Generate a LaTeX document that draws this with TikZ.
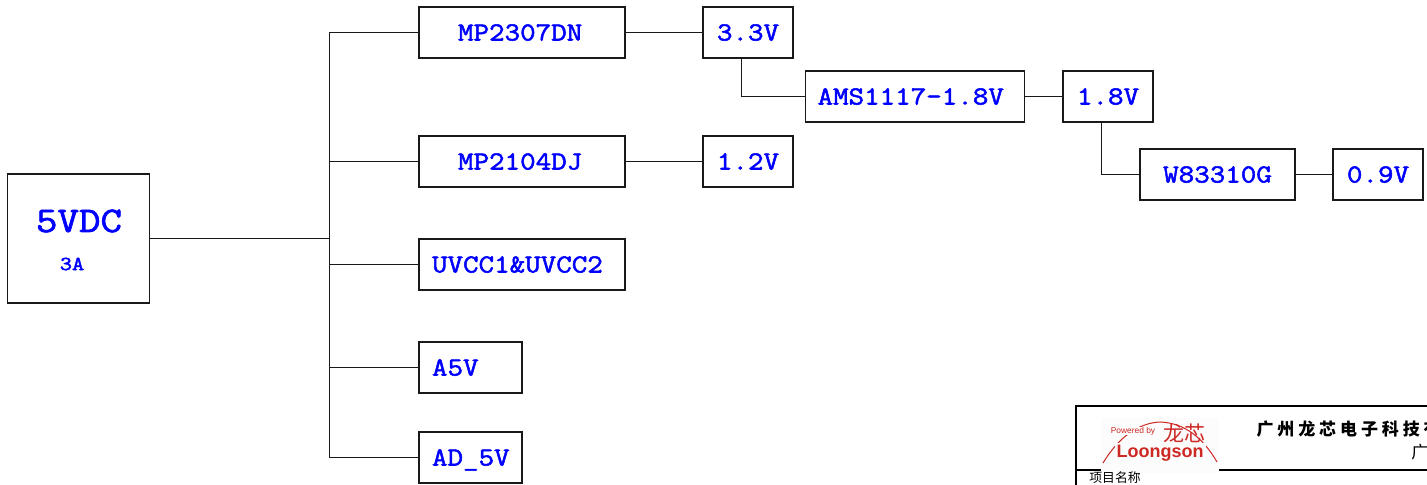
\documentclass[tikz,border=0pt]{standalone}
\usepackage{fontspec}
\usepackage{xcolor}
\usetikzlibrary{positioning}
\newfontfamily\cjkfont{Noto Sans CJK SC}
\newfontfamily\logofont{Liberation Sans}
\newfontfamily\railfont[FakeBold=2, FakeStretch=1.16]{Latin Modern Mono}
\definecolor{railblue}{RGB}{0,0,255}
\definecolor{logored}{RGB}{205,40,35}
\tikzstyle{railbox} = [rectangle, draw=black!90, line width=0.7pt, fill=white, inner xsep=0pt, inner ysep=0pt, minimum height=25.5pt, text=railblue, font=\fontsize{13}{15}\railfont, text height=8pt, text depth=0pt, align=center]
\tikzstyle{railleft} = [railbox, inner xsep=6.5pt, align=left]
\tikzstyle{wire} = [line width=0.8pt, color=black!90]
\tikzstyle{frameline} = [line width=1pt, color=black]

\begin{document}
\begin{tikzpicture}[x=0.5pt, y=-0.5pt]
\useasboundingbox (0,0) rectangle (1427,485);
\clip (0,0) rectangle (1427,485);
% source
\node (source) [railbox, minimum width=71pt, minimum height=64.5pt] at (78.5,238.5) {};
\node (sourcev) [text=railblue, inner sep=0pt, font=\fontsize{18}{20}\railfont] at (79,221) {5VDC};
\node (sourcea) [text=railblue, inner sep=0pt, font=\fontsize{10}{12}\railfont] at (72,264) {3A};
% first column
\node (mptop) [railleft, inner xsep=19.5pt, minimum width=103pt, text width=64pt] at (522,32.5) {MP2307DN};
\node (mpmid) [railleft, inner xsep=19.5pt, minimum width=103pt, text width=64pt] at (522,161.5) {MP2104DJ};
\node (uvcc) [railleft, minimum width=103pt, text width=90pt] at (522,264.5) {UVCC1\&UVCC2};
\node (afive) [railleft, minimum width=51.5pt, text width=38.5pt] at (470.5,367.5) {A5V};
\node (adfive) [railleft, minimum width=51.5pt, text width=38.5pt] at (470.5,457.5) {AD\_5V};
% outputs
\node (vthree) [railbox, minimum width=45pt, text width=45pt] at (748,32.5) {3.3V};
\node (vone) [railbox, minimum width=45pt, text width=45pt] at (748,161.5) {1.2V};
\node (ams) [railleft, inner xsep=6pt, minimum width=109.5pt, text width=97.5pt] at (915,96.5) {AMS1117-1.8V};
\node (veight) [railbox, minimum width=45pt, text width=45pt] at (1108,96.5) {1.8V};
\node (wchip) [railbox, minimum width=77.5pt, text width=77.5pt] at (1217.5,174.5) {W83310G};
\node (vnine) [railbox, minimum width=45pt, text width=45pt] at (1378,174.5) {0.9V};
% bus
\coordinate (bus) at (329.5,238.5);
\coordinate (tapthree) at (741.5,58);
\coordinate (tapeight) at (1101.5,122);
\draw[wire] (source) -- (bus);
\draw[wire] (bus) |- (mptop);
\draw[wire] (bus) |- (mpmid);
\draw[wire] (bus) |- (uvcc);
\draw[wire] (bus) |- (afive);
\draw[wire] (bus) |- (adfive);
\draw[wire] (mptop) -- (vthree);
\draw[wire] (mpmid) -- (vone);
\draw[wire] (tapthree) |- (ams);
\draw[wire] (ams) -- (veight);
\draw[wire] (tapeight) |- (wchip);
\draw[wire] (wchip) -- (vnine);
% title block
\coordinate (framea) at (1076,485);
\coordinate (frameb) at (1076,406);
\coordinate (framec) at (1427,406);
\coordinate (framed) at (1076,470);
\coordinate (framee) at (1427,470);
\draw[frameline] (framea) -- (frameb) -- (framec);
\draw[frameline] (framed) -- (framee);
% logo
\fill[black!1] (1100.5,418) rectangle (1218.5,473);
\coordinate (arcl) at (1103,463);
\coordinate (arcm) at (1160,422);
\coordinate (arcr) at (1217,462);
\draw[logored, line width=0.5pt] (arcl) .. controls (1118,438) and (1138,423) .. (arcm) .. controls (1185,423) and (1203,438) .. (arcr);
\node (poweredby) [inner sep=0pt, fill=black!1, text=logored, font=\fontsize{4.2}{5}\logofont] at (1133,431) {Powered by};
\node (logocn) [inner sep=0pt, text=logored, font=\fontsize{10.5}{12}\cjkfont] at (1184,433) {龙芯};
\node (logoen) [inner sep=1pt, fill=black!1, text=logored, font=\fontsize{9}{11}\logofont\bfseries] at (1160,453) {Loongson};
% title text
\foreach \cjkch [count=\i from 0] in {广,州,龙,芯,电,子,科,技,有}
  \node (title\i) [inner sep=0pt, font=\fontsize{8.5}{10}\cjkfont\bfseries] at (1265+20.9*\i,429) {\cjkch};
\node (subtitle) [inner sep=0pt, anchor=west, font=\fontsize{8.5}{10}\cjkfont] at (1411,452) {广州};
\node (project) [inner sep=0pt, anchor=west, font=\fontsize{6.4}{8}\cjkfont] at (1089,478) {项目名称};
\end{tikzpicture}
\end{document}
